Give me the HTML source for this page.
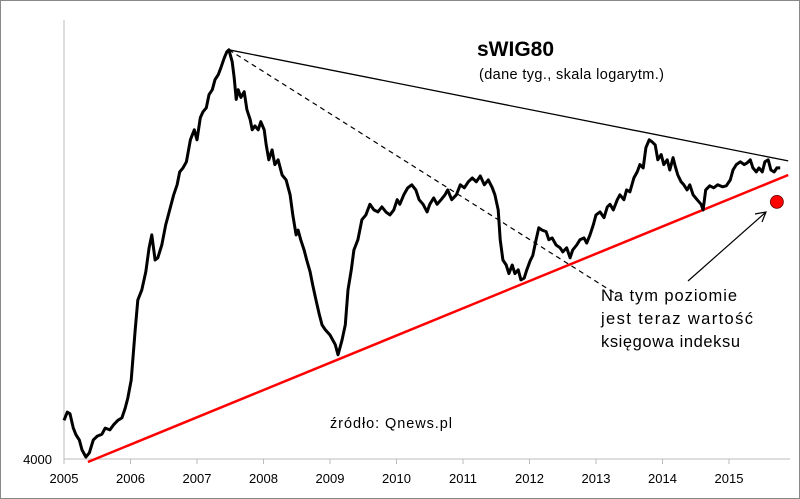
<!DOCTYPE html>
<html><head><meta charset="utf-8"><style>
html,body{margin:0;padding:0;background:#fff;}
svg{display:block;font-family:"Liberation Sans",Arial,sans-serif;}
</style></head><body>
<svg id="chart" width="800" height="499" viewBox="0 0 800 499" xmlns="http://www.w3.org/2000/svg">
<rect x="0.5" y="0.5" width="799" height="498" fill="#fff" stroke="#888"/>
<line x1="64" y1="20" x2="64" y2="459" stroke="#bbb"/>
<line x1="64" y1="459" x2="790" y2="459" stroke="#bbb"/>
<g id="xticks"></g>
<text x="52" y="464" text-anchor="end" font-size="13" fill="#000">4000</text>
<g id="lines"></g>
<text x="477" y="56" font-size="21" font-weight="bold">sWIG80</text>
<text x="479" y="79" font-size="14.5" textLength="185">(dane tyg., skala logarytm.)</text>
<text x="330" y="428" font-size="14.5" textLength="122">źródło: Qnews.pl</text>
<g font-size="16.5">
<text x="601" y="301" textLength="136">Na tym poziomie</text>
<text x="601" y="324" textLength="152">jest teraz wartość</text>
<text x="601" y="347" textLength="139">księgowa indeksu</text>
</g>
<g stroke="#000" stroke-width="1.2" fill="none">
<line x1="688" y1="281" x2="766" y2="212"/>
<polyline points="755,214 766,212 762,222"/>
</g>
</svg>
<script>
const years=[2005,2006,2007,2008,2009,2010,2011,2012,2013,2014,2015];
const dates=[2005.00,2005.05,2005.09,2005.14,2005.18,2005.23,2005.27,2005.33,2005.38,2005.44,2005.50,2005.57,2005.62,2005.69,2005.75,2005.81,2005.87,2005.92,2005.96,2006.01,2006.07,2006.11,2006.17,2006.23,2006.28,2006.32,2006.37,2006.41,2006.47,2006.53,2006.59,2006.65,2006.70,2006.74,2006.79,2006.84,2006.90,2006.96,2007.00,2007.05,2007.09,2007.14,2007.18,2007.23,2007.27,2007.32,2007.36,2007.41,2007.45,2007.48,2007.53,2007.56,2007.59,2007.62,2007.66,2007.71,2007.75,2007.80,2007.83,2007.87,2007.92,2007.96,2008.01,2008.04,2008.08,2008.13,2008.17,2008.22,2008.28,2008.34,2008.40,2008.44,2008.49,2008.52,2008.56,2008.61,2008.65,2008.70,2008.74,2008.79,2008.84,2008.88,2008.93,2009.00,2009.08,2009.12,2009.18,2009.23,2009.27,2009.32,2009.36,2009.42,2009.48,2009.54,2009.60,2009.66,2009.72,2009.78,2009.84,2009.90,2009.96,2010.01,2010.05,2010.11,2010.17,2010.23,2010.29,2010.34,2010.40,2010.46,2010.50,2010.56,2010.61,2010.67,2010.73,2010.77,2010.83,2010.90,2010.96,2011.02,2011.08,2011.14,2011.20,2011.26,2011.32,2011.38,2011.44,2011.48,2011.53,2011.56,2011.60,2011.65,2011.69,2011.74,2011.78,2011.83,2011.87,2011.92,2011.96,2012.01,2012.05,2012.10,2012.14,2012.19,2012.25,2012.29,2012.34,2012.40,2012.46,2012.50,2012.56,2012.61,2012.65,2012.71,2012.76,2012.82,2012.86,2012.91,2012.96,2013.00,2013.06,2013.12,2013.17,2013.21,2013.26,2013.32,2013.36,2013.42,2013.46,2013.51,2013.57,2013.62,2013.66,2013.71,2013.75,2013.80,2013.84,2013.89,2013.93,2013.98,2014.02,2014.07,2014.11,2014.16,2014.19,2014.23,2014.28,2014.32,2014.37,2014.41,2014.46,2014.52,2014.58,2014.61,2014.65,2014.71,2014.77,2014.83,2014.90,2014.96,2015.02,2015.06,2015.11,2015.17,2015.23,2015.27,2015.32,2015.36,2015.41,2015.45,2015.50,2015.54,2015.59,2015.63,2015.68,2015.72,2015.77];
const values=[4610,4750,4720,4480,4370,4290,4135,4030,4090,4290,4350,4380,4480,4450,4540,4610,4650,4820,5000,5340,6420,7160,7430,7940,8670,9090,8290,8360,8760,9430,9960,10530,10920,11450,11620,11880,12880,13360,12880,13960,14270,14480,15190,15470,16050,16350,16770,17390,17780,17910,17140,16160,14930,15470,15040,15360,14380,13860,13360,13550,13360,13760,13360,12640,11970,12410,11760,11970,11320,11120,10530,9780,9090,9250,8930,8600,8290,7940,7570,7160,6780,6540,6420,6300,6080,5860,6180,6540,7430,8000,8600,8930,9610,9780,10170,9960,9890,10070,9890,9780,9960,10340,10170,10530,10800,10920,10720,10340,10170,9890,10170,10410,10170,10340,10530,10720,10340,10530,10920,10800,11040,11200,11040,11280,10920,11120,10800,10530,9960,8930,8290,8140,7890,8140,7890,8000,7710,7760,8000,8270,8430,8930,9330,9250,9200,8930,8990,8760,8670,8540,8670,8360,8600,8760,8930,8990,8820,9090,9430,9780,9890,9680,10070,10170,9960,10340,10530,10340,10720,10640,11200,11450,11760,11620,12510,12880,12790,12640,11970,12200,11760,11970,11530,12060,11710,11320,11040,10920,10720,10920,10530,10340,10170,9960,10720,10880,10800,10920,10840,10880,11120,11530,11760,11880,11760,11830,11970,11620,11450,11620,11450,11880,11970,11530,11450,11620,11620];
const resistDates=[2007.48,2015.89], resistValues=[17910,11920];
const dashDates=[2007.48,2013.32], dashValues=[17910,7300];
const supportDates=[2005.36,2015.89], supportValues=[3956,11320];
const bookDate=2015.72, bookValue=10260;

const NS="http://www.w3.org/2000/svg";
const X=d=>64+(d-2005)*66.5;
const Y=v=>459-273*Math.log(v/4000);
const xt=document.getElementById('xticks');
const g=document.getElementById('lines');
years.forEach(yr=>{
  const t=document.createElementNS(NS,'line');
  
  
  t.setAttribute('x1',X(yr));t.setAttribute('x2',X(yr));t.setAttribute('y1',459);t.setAttribute('y2',464);t.setAttribute('stroke','#bbb');
  xt.appendChild(t);
  const l=document.createElementNS(NS,'text');
  
  
  l.setAttribute('x',X(yr));l.setAttribute('y',483);l.setAttribute('text-anchor','middle');l.setAttribute('font-size','13');
  l.textContent=yr;
  xt.appendChild(l);
});
function line(ds,vs,stroke,w,dash,name){
  const p=document.createElementNS(NS,'polyline');
  
  
  p.setAttribute('points',ds.map((d,i)=>X(d).toFixed(1)+','+Y(vs[i]).toFixed(1)).join(' '));
  p.setAttribute('fill','none');p.setAttribute('stroke',stroke);p.setAttribute('stroke-width',w);
  p.setAttribute('stroke-linejoin','round');
  if(dash)p.setAttribute('stroke-dasharray',dash);
  g.appendChild(p);
}
line(resistDates,resistValues,'#000',1.3,null,'resistance-line');
line(dashDates,dashValues,'#000',1.2,'5,4','dashed-trend-line');
line(supportDates,supportValues,'#f00',2.5,null,'support-line');
line(dates,values,'#000',3,null,'swig80-series');
const c=document.createElementNS(NS,'circle');


c.setAttribute('cx',X(bookDate));c.setAttribute('cy',Y(bookValue));c.setAttribute('r',6.5);
c.setAttribute('fill','#f00');c.setAttribute('stroke','#600');c.setAttribute('stroke-width','0.8');
g.appendChild(c);
</script>
</body></html>
